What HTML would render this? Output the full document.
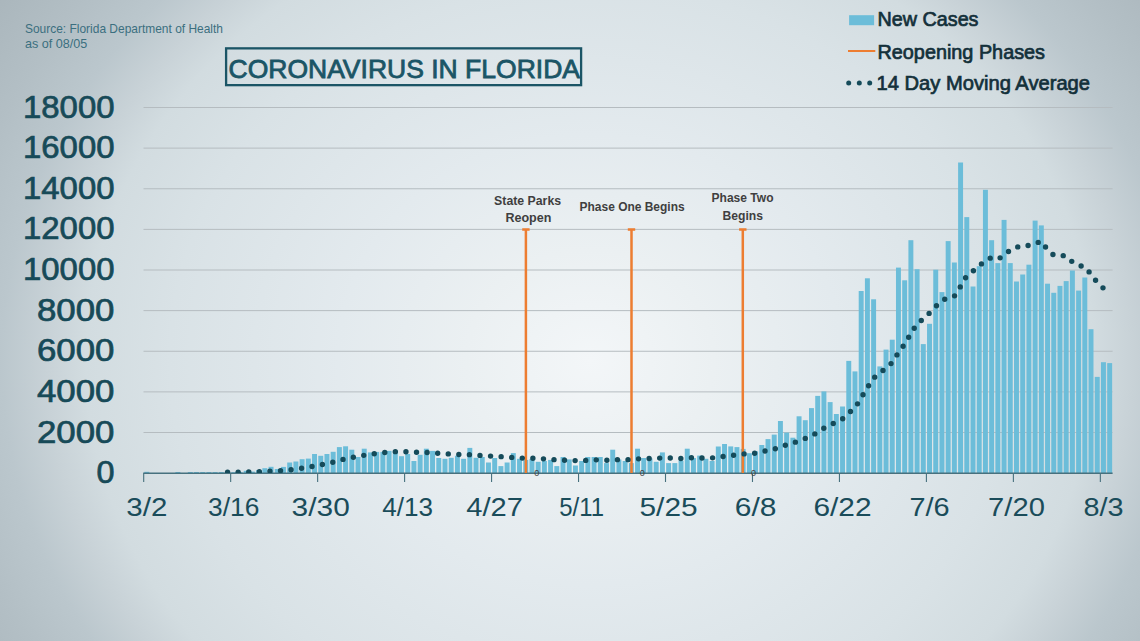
<!DOCTYPE html>
<html><head><meta charset="utf-8">
<style>
html,body{margin:0;padding:0;}
body{width:1140px;height:641px;overflow:hidden;position:relative;background:radial-gradient(ellipse 560px 500px at 590px 360px,#f3f6f8 0%,#ebf0f2 22%,#e3eaee 45%,#d9e2e6 75%,#d2dce0 90%,#c8d2d7 97%,#bbc7cd 105%,#b3bfc5 115%,#a9b5bb 130%);}
svg{position:absolute;left:0;top:0;font-family:"Liberation Sans",sans-serif;}
</style></head><body>
<svg width="1140" height="641" viewBox="0 0 1140 641">

<path d="M143.5,432.50H1112.6M143.5,391.88H1112.6M143.5,351.25H1112.6M143.5,310.62H1112.6M143.5,270.00H1112.6M143.5,229.38H1112.6M143.5,188.75H1112.6M143.5,148.12H1112.6M143.5,107.50H1112.6" stroke="#b5bcc0" stroke-width="1.0" fill="none"/>
<g fill="#6cbdd9"><rect x="144.33" y="471.80" width="4.95" height="1.33"/><rect x="175.39" y="472.00" width="4.95" height="1.13"/><rect x="187.81" y="472.00" width="4.95" height="1.13"/><rect x="194.03" y="472.00" width="4.95" height="1.13"/><rect x="200.24" y="472.00" width="4.95" height="1.13"/><rect x="206.45" y="472.00" width="4.95" height="1.13"/><rect x="212.66" y="472.00" width="4.95" height="1.13"/><rect x="218.87" y="472.00" width="4.95" height="1.13"/><rect x="225.09" y="472.00" width="4.95" height="1.13"/><rect x="231.30" y="472.20" width="4.95" height="0.93"/><rect x="237.51" y="472.00" width="4.95" height="1.13"/><rect x="243.72" y="470.80" width="4.95" height="2.33"/><rect x="249.93" y="471.60" width="4.95" height="1.53"/><rect x="256.15" y="470.00" width="4.95" height="3.13"/><rect x="262.36" y="468.20" width="4.95" height="4.93"/><rect x="268.57" y="466.80" width="4.95" height="6.33"/><rect x="274.78" y="469.00" width="4.95" height="4.13"/><rect x="280.99" y="466.90" width="4.95" height="6.23"/><rect x="287.21" y="462.50" width="4.95" height="10.63"/><rect x="293.42" y="461.50" width="4.95" height="11.63"/><rect x="299.63" y="459.20" width="4.95" height="13.93"/><rect x="305.84" y="458.60" width="4.95" height="14.53"/><rect x="312.05" y="454.00" width="4.95" height="19.13"/><rect x="318.27" y="455.80" width="4.95" height="17.33"/><rect x="324.48" y="454.00" width="4.95" height="19.13"/><rect x="330.69" y="451.80" width="4.95" height="21.33"/><rect x="336.90" y="447.10" width="4.95" height="26.03"/><rect x="343.11" y="446.30" width="4.95" height="26.83"/><rect x="349.33" y="449.70" width="4.95" height="23.43"/><rect x="355.54" y="457.00" width="4.95" height="16.13"/><rect x="361.75" y="448.70" width="4.95" height="24.43"/><rect x="367.96" y="452.40" width="4.95" height="20.73"/><rect x="374.17" y="451.90" width="4.95" height="21.23"/><rect x="380.39" y="451.90" width="4.95" height="21.23"/><rect x="386.60" y="450.90" width="4.95" height="22.23"/><rect x="392.81" y="451.30" width="4.95" height="21.83"/><rect x="399.02" y="456.20" width="4.95" height="16.93"/><rect x="405.23" y="454.00" width="4.95" height="19.13"/><rect x="411.45" y="461.00" width="4.95" height="12.13"/><rect x="417.66" y="454.80" width="4.95" height="18.33"/><rect x="423.87" y="448.70" width="4.95" height="24.43"/><rect x="430.08" y="450.90" width="4.95" height="22.23"/><rect x="436.29" y="458.00" width="4.95" height="15.13"/><rect x="442.51" y="458.80" width="4.95" height="14.33"/><rect x="448.72" y="457.80" width="4.95" height="15.33"/><rect x="454.93" y="455.80" width="4.95" height="17.33"/><rect x="461.14" y="458.80" width="4.95" height="14.33"/><rect x="467.35" y="447.90" width="4.95" height="25.23"/><rect x="473.57" y="457.80" width="4.95" height="15.33"/><rect x="479.78" y="457.00" width="4.95" height="16.13"/><rect x="485.99" y="462.50" width="4.95" height="10.63"/><rect x="492.20" y="458.00" width="4.95" height="15.13"/><rect x="498.41" y="466.10" width="4.95" height="7.03"/><rect x="504.63" y="462.50" width="4.95" height="10.63"/><rect x="510.84" y="453.10" width="4.95" height="20.03"/><rect x="517.05" y="458.80" width="4.95" height="14.33"/><rect x="523.26" y="459.90" width="4.95" height="13.23"/><rect x="529.47" y="459.10" width="4.95" height="14.03"/><rect x="535.69" y="461.80" width="4.95" height="11.33"/><rect x="541.90" y="461.00" width="4.95" height="12.13"/><rect x="548.11" y="459.90" width="4.95" height="13.23"/><rect x="554.32" y="466.10" width="4.95" height="7.03"/><rect x="560.53" y="457.00" width="4.95" height="16.13"/><rect x="566.75" y="459.40" width="4.95" height="13.73"/><rect x="572.96" y="465.50" width="4.95" height="7.63"/><rect x="579.17" y="461.00" width="4.95" height="12.13"/><rect x="585.38" y="457.00" width="4.95" height="16.13"/><rect x="591.59" y="457.00" width="4.95" height="16.13"/><rect x="597.81" y="457.00" width="4.95" height="16.13"/><rect x="604.02" y="463.10" width="4.95" height="10.03"/><rect x="610.23" y="449.70" width="4.95" height="23.43"/><rect x="616.44" y="459.50" width="4.95" height="13.63"/><rect x="622.65" y="461.00" width="4.95" height="12.13"/><rect x="628.87" y="463.10" width="4.95" height="10.03"/><rect x="635.08" y="448.70" width="4.95" height="24.43"/><rect x="641.29" y="458.00" width="4.95" height="15.13"/><rect x="647.50" y="458.40" width="4.95" height="14.73"/><rect x="653.71" y="461.80" width="4.95" height="11.33"/><rect x="659.93" y="452.40" width="4.95" height="20.73"/><rect x="666.14" y="463.10" width="4.95" height="10.03"/><rect x="672.35" y="463.10" width="4.95" height="10.03"/><rect x="678.56" y="460.70" width="4.95" height="12.43"/><rect x="684.77" y="448.70" width="4.95" height="24.43"/><rect x="690.99" y="458.00" width="4.95" height="15.13"/><rect x="697.20" y="455.60" width="4.95" height="17.53"/><rect x="703.41" y="458.80" width="4.95" height="14.33"/><rect x="709.62" y="461.00" width="4.95" height="12.13"/><rect x="715.83" y="446.50" width="4.95" height="26.63"/><rect x="722.05" y="444.00" width="4.95" height="29.13"/><rect x="728.26" y="446.40" width="4.95" height="26.73"/><rect x="734.47" y="447.10" width="4.95" height="26.03"/><rect x="740.68" y="448.90" width="4.95" height="24.23"/><rect x="746.89" y="453.20" width="4.95" height="19.93"/><rect x="753.11" y="451.30" width="4.95" height="21.83"/><rect x="759.32" y="445.00" width="4.95" height="28.13"/><rect x="765.53" y="439.10" width="4.95" height="34.03"/><rect x="771.74" y="434.60" width="4.95" height="38.53"/><rect x="777.95" y="421.00" width="4.95" height="52.13"/><rect x="784.17" y="432.60" width="4.95" height="40.53"/><rect x="790.38" y="437.70" width="4.95" height="35.43"/><rect x="796.59" y="416.30" width="4.95" height="56.83"/><rect x="802.80" y="420.20" width="4.95" height="52.93"/><rect x="809.01" y="408.10" width="4.95" height="65.03"/><rect x="815.23" y="395.90" width="4.95" height="77.23"/><rect x="821.44" y="391.40" width="4.95" height="81.73"/><rect x="827.65" y="402.10" width="4.95" height="71.03"/><rect x="833.86" y="414.00" width="4.95" height="59.13"/><rect x="840.07" y="406.50" width="4.95" height="66.63"/><rect x="846.29" y="360.90" width="4.95" height="112.23"/><rect x="852.50" y="371.40" width="4.95" height="101.73"/><rect x="858.71" y="291.00" width="4.95" height="182.13"/><rect x="864.92" y="278.30" width="4.95" height="194.83"/><rect x="871.13" y="299.30" width="4.95" height="173.83"/><rect x="877.35" y="366.40" width="4.95" height="106.73"/><rect x="883.56" y="349.60" width="4.95" height="123.53"/><rect x="889.77" y="339.70" width="4.95" height="133.43"/><rect x="895.98" y="267.60" width="4.95" height="205.53"/><rect x="902.19" y="280.30" width="4.95" height="192.83"/><rect x="908.41" y="240.20" width="4.95" height="232.93"/><rect x="914.62" y="269.20" width="4.95" height="203.93"/><rect x="920.83" y="344.10" width="4.95" height="129.03"/><rect x="927.04" y="323.80" width="4.95" height="149.33"/><rect x="933.25" y="269.70" width="4.95" height="203.43"/><rect x="939.47" y="292.10" width="4.95" height="181.03"/><rect x="945.68" y="241.10" width="4.95" height="232.03"/><rect x="951.89" y="262.50" width="4.95" height="210.63"/><rect x="958.10" y="162.50" width="4.95" height="310.63"/><rect x="964.31" y="217.10" width="4.95" height="256.03"/><rect x="970.53" y="286.50" width="4.95" height="186.63"/><rect x="976.74" y="266.20" width="4.95" height="206.93"/><rect x="982.95" y="189.80" width="4.95" height="283.33"/><rect x="989.16" y="240.20" width="4.95" height="232.93"/><rect x="995.37" y="263.10" width="4.95" height="210.03"/><rect x="1001.59" y="219.90" width="4.95" height="253.23"/><rect x="1007.80" y="263.10" width="4.95" height="210.03"/><rect x="1014.01" y="281.50" width="4.95" height="191.63"/><rect x="1020.22" y="274.50" width="4.95" height="198.63"/><rect x="1026.43" y="264.70" width="4.95" height="208.43"/><rect x="1032.65" y="220.60" width="4.95" height="252.53"/><rect x="1038.86" y="225.40" width="4.95" height="247.73"/><rect x="1045.07" y="283.70" width="4.95" height="189.43"/><rect x="1051.28" y="292.80" width="4.95" height="180.33"/><rect x="1057.49" y="285.90" width="4.95" height="187.23"/><rect x="1063.71" y="281.10" width="4.95" height="192.03"/><rect x="1069.92" y="270.50" width="4.95" height="202.63"/><rect x="1076.13" y="290.60" width="4.95" height="182.53"/><rect x="1082.34" y="277.50" width="4.95" height="195.63"/><rect x="1088.55" y="329.20" width="4.95" height="143.93"/><rect x="1094.77" y="376.90" width="4.95" height="96.23"/><rect x="1100.98" y="362.20" width="4.95" height="110.93"/><rect x="1107.19" y="363.10" width="4.95" height="110.03"/></g>
<path d="M143.2,473.2H1112.6" stroke="#47717e" stroke-width="1.4" fill="none"/>
<path d="M143.70,473.2V482M230.67,473.2V482M317.64,473.2V482M404.60,473.2V482M491.57,473.2V482M578.54,473.2V482M665.51,473.2V482M752.48,473.2V482M839.44,473.2V482M926.41,473.2V482M1013.38,473.2V482M1100.35,473.2V482" stroke="#47717e" stroke-width="1.1" fill="none"/>
<g stroke="#ed7d31" stroke-width="2.5" fill="none">
<path d="M525.9,229.4V473M522.2,229.4H529.6"/>
<path d="M631.5,229.4V473M627.8,229.4H635.2"/>
<path d="M742.8,229.4V473M739.1,229.4H746.5"/>
</g>
<defs><clipPath id="pa"><rect x="140" y="100" width="980" height="373.0"/></clipPath></defs>
<path clip-path="url(#pa)" d="M227.56,472.27 L233.77,472.30 L239.99,472.24 L246.20,472.10 L252.41,472.01 L258.62,471.81 L264.83,471.54 L271.05,471.11 L277.26,470.90 L283.47,470.54 L289.68,469.86 L295.89,469.11 L302.11,468.19 L308.32,467.24 L314.53,465.95 L320.74,464.78 L326.95,463.49 L333.17,462.14 L339.38,460.39 L345.59,458.69 L351.80,457.37 L358.01,456.67 L364.23,455.22 L370.44,454.19 L376.65,453.43 L382.86,452.74 L389.07,452.15 L395.29,451.63 L401.50,451.79 L407.71,451.66 L413.92,452.16 L420.13,452.37 L426.35,452.49 L432.56,452.81 L438.77,453.41 L444.98,453.54 L451.19,454.19 L457.41,454.43 L463.62,454.92 L469.83,454.64 L476.04,455.13 L482.25,455.54 L488.47,455.99 L494.68,456.27 L500.89,456.64 L507.10,457.19 L513.31,457.50 L519.53,458.06 L525.74,458.20 L531.95,458.22 L538.16,458.51 L544.37,458.88 L550.59,458.96 L556.80,460.26 L563.01,460.20 L569.22,460.37 L575.43,460.59 L581.65,460.80 L587.86,460.15 L594.07,459.76 L600.28,460.04 L606.49,460.34 L612.71,459.61 L618.92,459.64 L625.13,459.59 L631.34,459.74 L637.55,458.94 L643.77,458.36 L649.98,458.46 L656.19,458.63 L662.40,457.69 L668.61,457.84 L674.83,458.28 L681.04,458.54 L687.25,457.95 L693.46,457.59 L699.67,458.01 L705.89,457.96 L712.10,457.96 L718.31,456.77 L724.52,456.44 L730.73,455.61 L736.95,454.80 L743.16,453.88 L749.37,453.94 L755.58,453.09 L761.79,451.80 L768.01,450.26 L774.22,449.25 L780.43,446.61 L786.64,444.96 L792.85,443.46 L799.07,440.26 L805.28,438.39 L811.49,435.82 L817.70,432.21 L823.91,428.24 L830.13,424.89 L836.34,422.09 L842.55,418.89 L848.76,412.89 L854.97,408.05 L861.19,397.79 L867.40,387.60 L873.61,378.08 L879.82,372.99 L886.03,368.22 L892.25,362.47 L898.46,352.44 L904.67,344.18 L910.88,333.38 L917.09,323.89 L923.31,318.89 L929.52,312.99 L935.73,306.47 L941.94,300.81 L948.15,297.24 L954.37,296.11 L960.58,286.34 L966.79,275.68 L973.00,271.17 L979.21,265.92 L985.43,260.36 L991.64,257.50 L997.85,259.14 L1004.06,255.61 L1010.27,249.83 L1016.49,246.81 L1022.70,247.15 L1028.91,245.19 L1035.12,243.73 L1041.33,241.08 L1047.55,249.74 L1053.76,255.14 L1059.97,255.10 L1066.18,256.16 L1072.39,261.93 L1078.61,265.53 L1084.82,266.56 L1091.03,274.36 L1097.24,282.49 L1103.45,288.26 L1109.67,294.59" stroke="#154b5a" stroke-width="5.4" fill="none" stroke-linecap="round" stroke-dasharray="0 10.6" stroke-dashoffset="0"/>
<rect x="849.1" y="15.2" width="25" height="10" fill="#6cbdd9"/>
<path d="M848,51H875.3" stroke="#ed7d31" stroke-width="2"/>
<g fill="#154b5a"><circle cx="848.7" cy="82.9" r="2.5"/><circle cx="859.3" cy="82.9" r="2.5"/><circle cx="869.7" cy="82.9" r="2.5"/></g>
<rect x="226.1" y="48.35" width="355" height="36.8" fill="none" stroke="#1b5566" stroke-width="2.3"/>
<text x="114.50" y="483.23" font-size="30.5" fill="#174a58" text-anchor="end" textLength="18.00" lengthAdjust="spacingAndGlyphs" stroke="#174a58" stroke-width="0.7">0</text>
<text x="114.50" y="442.60" font-size="30.5" fill="#174a58" text-anchor="end" textLength="77.50" lengthAdjust="spacingAndGlyphs" stroke="#174a58" stroke-width="0.7">2000</text>
<text x="114.50" y="401.98" font-size="30.5" fill="#174a58" text-anchor="end" textLength="77.50" lengthAdjust="spacingAndGlyphs" stroke="#174a58" stroke-width="0.7">4000</text>
<text x="114.50" y="361.35" font-size="30.5" fill="#174a58" text-anchor="end" textLength="77.50" lengthAdjust="spacingAndGlyphs" stroke="#174a58" stroke-width="0.7">6000</text>
<text x="114.50" y="320.73" font-size="30.5" fill="#174a58" text-anchor="end" textLength="77.50" lengthAdjust="spacingAndGlyphs" stroke="#174a58" stroke-width="0.7">8000</text>
<text x="114.50" y="280.10" font-size="30.5" fill="#174a58" text-anchor="end" textLength="91.50" lengthAdjust="spacingAndGlyphs" stroke="#174a58" stroke-width="0.7">10000</text>
<text x="114.50" y="239.47" font-size="30.5" fill="#174a58" text-anchor="end" textLength="91.50" lengthAdjust="spacingAndGlyphs" stroke="#174a58" stroke-width="0.7">12000</text>
<text x="114.50" y="198.85" font-size="30.5" fill="#174a58" text-anchor="end" textLength="91.50" lengthAdjust="spacingAndGlyphs" stroke="#174a58" stroke-width="0.7">14000</text>
<text x="114.50" y="158.22" font-size="30.5" fill="#174a58" text-anchor="end" textLength="91.50" lengthAdjust="spacingAndGlyphs" stroke="#174a58" stroke-width="0.7">16000</text>
<text x="114.50" y="117.60" font-size="30.5" fill="#174a58" text-anchor="end" textLength="91.50" lengthAdjust="spacingAndGlyphs" stroke="#174a58" stroke-width="0.7">18000</text>
<text x="146.81" y="516.00" font-size="25" fill="#1a4c5a" text-anchor="middle" textLength="41.00" lengthAdjust="spacingAndGlyphs">3/2</text>
<text x="233.77" y="516.00" font-size="25" fill="#1a4c5a" text-anchor="middle" textLength="51.30" lengthAdjust="spacingAndGlyphs">3/16</text>
<text x="320.74" y="516.00" font-size="25" fill="#1a4c5a" text-anchor="middle" textLength="58.20" lengthAdjust="spacingAndGlyphs">3/30</text>
<text x="407.71" y="516.00" font-size="25" fill="#1a4c5a" text-anchor="middle" textLength="50.70" lengthAdjust="spacingAndGlyphs">4/13</text>
<text x="494.68" y="516.00" font-size="25" fill="#1a4c5a" text-anchor="middle" textLength="56.70" lengthAdjust="spacingAndGlyphs">4/27</text>
<text x="581.65" y="516.00" font-size="25" fill="#1a4c5a" text-anchor="middle" textLength="44.80" lengthAdjust="spacingAndGlyphs">5/11</text>
<text x="668.61" y="516.00" font-size="25" fill="#1a4c5a" text-anchor="middle" textLength="58.20" lengthAdjust="spacingAndGlyphs">5/25</text>
<text x="755.58" y="516.00" font-size="25" fill="#1a4c5a" text-anchor="middle" textLength="41.70" lengthAdjust="spacingAndGlyphs">6/8</text>
<text x="842.55" y="516.00" font-size="25" fill="#1a4c5a" text-anchor="middle" textLength="58.20" lengthAdjust="spacingAndGlyphs">6/22</text>
<text x="929.52" y="516.00" font-size="25" fill="#1a4c5a" text-anchor="middle" textLength="40.20" lengthAdjust="spacingAndGlyphs">7/6</text>
<text x="1016.49" y="516.00" font-size="25" fill="#1a4c5a" text-anchor="middle" textLength="56.80" lengthAdjust="spacingAndGlyphs">7/20</text>
<text x="1103.45" y="516.00" font-size="25" fill="#1a4c5a" text-anchor="middle" textLength="40.10" lengthAdjust="spacingAndGlyphs">8/3</text>
<text x="25.00" y="32.90" font-size="12.6" fill="#3b6f7f" textLength="198.00" lengthAdjust="spacingAndGlyphs">Source: Florida Department of Health</text>
<text x="25.00" y="47.80" font-size="12.6" fill="#3b6f7f">as of 08/05</text>
<text x="228.50" y="78.00" font-size="25.3" fill="#1b5566" textLength="351.50" lengthAdjust="spacingAndGlyphs" stroke="#1b5566" stroke-width="0.8">CORONAVIRUS IN FLORIDA</text>
<text x="877.50" y="26.30" font-size="20" fill="#13303a" textLength="101.00" lengthAdjust="spacingAndGlyphs" stroke="#13303a" stroke-width="0.7">New Cases</text>
<text x="877.50" y="58.50" font-size="20" fill="#13303a" textLength="167.50" lengthAdjust="spacingAndGlyphs" stroke="#13303a" stroke-width="0.7">Reopening Phases</text>
<text x="876.50" y="89.80" font-size="20" fill="#13303a" textLength="213.50" lengthAdjust="spacingAndGlyphs" stroke="#13303a" stroke-width="0.7">14 Day Moving Average</text>
<text x="527.60" y="204.70" font-size="12.5" fill="#3f3f3f" font-weight="bold" text-anchor="middle" textLength="67.00" lengthAdjust="spacingAndGlyphs">State Parks</text>
<text x="528.40" y="222.00" font-size="12.5" fill="#3f3f3f" font-weight="bold" text-anchor="middle" textLength="46.00" lengthAdjust="spacingAndGlyphs">Reopen</text>
<text x="632.10" y="211.30" font-size="12.5" fill="#3f3f3f" font-weight="bold" text-anchor="middle" textLength="105.00" lengthAdjust="spacingAndGlyphs">Phase One Begins</text>
<text x="742.50" y="202.40" font-size="12.5" fill="#3f3f3f" font-weight="bold" text-anchor="middle" textLength="62.00" lengthAdjust="spacingAndGlyphs">Phase Two</text>
<text x="742.70" y="219.50" font-size="12.5" fill="#3f3f3f" font-weight="bold" text-anchor="middle" textLength="40.50" lengthAdjust="spacingAndGlyphs">Begins</text>
<g font-size="9" fill="#404040" text-anchor="middle"><text x="536.7" y="476.4">0</text><text x="642.2" y="476.4">0</text><text x="753.6" y="476.4">0</text></g>
</svg>
</body></html>
